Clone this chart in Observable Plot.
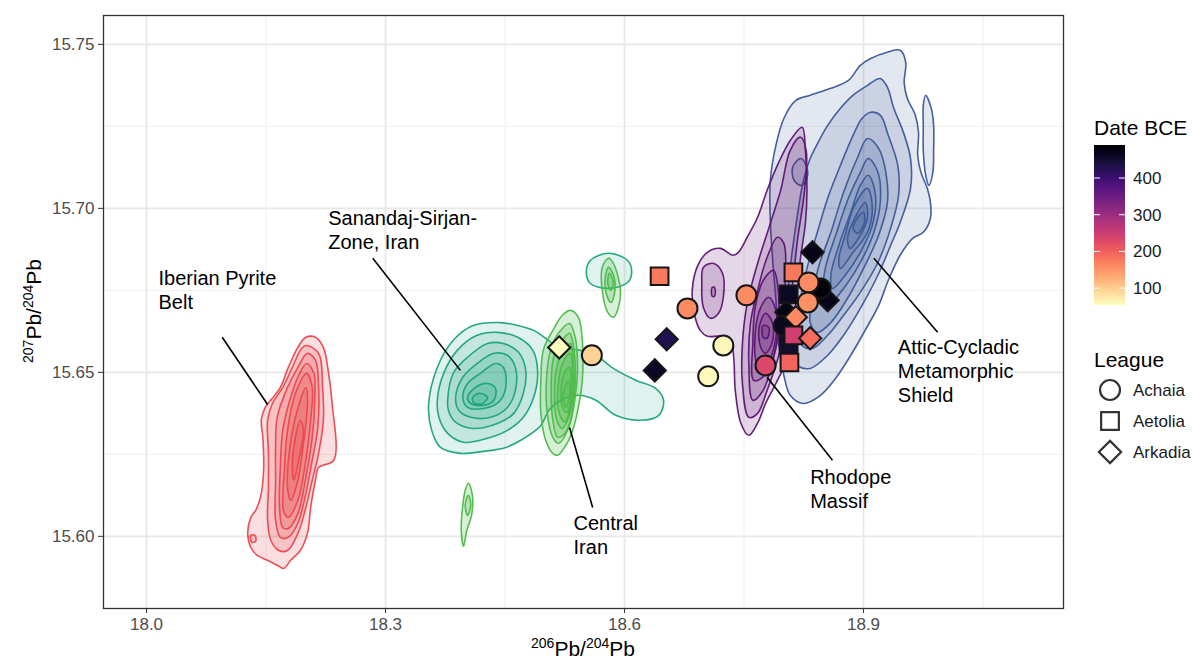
<!DOCTYPE html>
<html>
<head>
<meta charset="utf-8">
<script src="https://cdn.jsdelivr.net/npm/d3@7"></script>
<script src="https://cdn.jsdelivr.net/npm/@observablehq/plot@0.6"></script>
<style>
  body { margin: 0; background: #fff; }
  #wrap { position: relative; width: 1192px; height: 662px; font-family: "Liberation Sans", Arial, sans-serif; background: #fff; }
</style>
</head>
<body>
<div id="wrap"><div id="chart"></div></div>
<script>
// ---------- Ore-source density contours (206Pb/204Pb, 207Pb/204Pb) ----------
const iberianPyriteBelt = [
  [[18.200,15.6607],[18.212,15.6607],[18.222,15.6576],[18.228,15.6506],[18.233,15.6405],[18.235,15.6232],[18.216,15.6210],[18.212,15.6171],[18.206,15.6088],[18.202,15.6009],[18.193,15.5957],[18.181,15.5927],[18.172,15.5902],[18.164,15.5912],[18.152,15.5927],[18.139,15.5942],[18.131,15.5966],[18.127,15.6009],[18.131,15.6058],[18.137,15.6079],[18.143,15.6119],[18.147,15.6201],[18.146,15.6302],[18.144,15.6354],[18.149,15.6393],[18.158,15.6421],[18.168,15.6454],[18.178,15.6515],[18.190,15.6576]],
  [[18.200,15.6582],[18.216,15.6558],[18.221,15.6454],[18.222,15.6354],[18.216,15.6253],[18.208,15.6171],[18.200,15.6088],[18.190,15.6009],[18.177,15.5957],[18.166,15.5957],[18.156,15.5988],[18.152,15.6049],[18.153,15.6149],[18.153,15.6253],[18.152,15.6354],[18.158,15.6405],[18.171,15.6454],[18.183,15.6515],[18.193,15.6567]],
  [[18.202,15.6558],[18.212,15.6537],[18.216,15.6454],[18.215,15.6332],[18.208,15.6232],[18.200,15.6131],[18.190,15.6040],[18.178,15.5997],[18.168,15.5997],[18.162,15.6049],[18.162,15.6171],[18.162,15.6271],[18.164,15.6363],[18.177,15.6454],[18.190,15.6515]],
  [[18.201,15.6527],[18.210,15.6497],[18.211,15.6405],[18.208,15.6302],[18.200,15.6180],[18.190,15.6070],[18.178,15.6024],[18.171,15.6027],[18.167,15.6088],[18.168,15.6210],[18.171,15.6323],[18.181,15.6424],[18.191,15.6491]],
  [[18.201,15.6497],[18.208,15.6454],[18.206,15.6354],[18.200,15.6232],[18.190,15.6110],[18.178,15.6058],[18.172,15.6079],[18.173,15.6201],[18.177,15.6323],[18.187,15.6436]],
  [[18.200,15.6454],[18.202,15.6405],[18.197,15.6284],[18.190,15.6171],[18.181,15.6110],[18.177,15.6149],[18.179,15.6253],[18.187,15.6363]],
  [[18.193,15.6354],[18.197,15.6323],[18.191,15.6232],[18.185,15.6171],[18.183,15.6210],[18.187,15.6302]],
  [[18.131,15.6003],[18.136,15.6003],[18.137,15.5985],[18.132,15.5982]]
];
const sanandajSirjanZone = [
  [[18.354,15.6399],[18.365,15.6515],[18.385,15.6598],[18.410,15.6643],[18.441,15.6652],[18.466,15.6643],[18.486,15.6628],[18.501,15.6604],[18.513,15.6582],[18.526,15.6573],[18.545,15.6567],[18.564,15.6552],[18.586,15.6512],[18.614,15.6476],[18.639,15.6451],[18.649,15.6415],[18.643,15.6369],[18.620,15.6354],[18.589,15.6369],[18.564,15.6415],[18.542,15.6430],[18.520,15.6415],[18.505,15.6384],[18.495,15.6338],[18.476,15.6302],[18.451,15.6271],[18.423,15.6259],[18.394,15.6253],[18.369,15.6271],[18.358,15.6323]],
  [[18.552,15.6805],[18.557,15.6841],[18.580,15.6863],[18.604,15.6841],[18.609,15.6805],[18.604,15.6774],[18.580,15.6756],[18.557,15.6771]],
  [[18.365,15.6415],[18.373,15.6497],[18.390,15.6567],[18.415,15.6613],[18.441,15.6622],[18.466,15.6607],[18.485,15.6567],[18.491,15.6497],[18.486,15.6424],[18.473,15.6363],[18.453,15.6323],[18.428,15.6299],[18.398,15.6287],[18.378,15.6314],[18.367,15.6363]],
  [[18.378,15.6415],[18.385,15.6497],[18.403,15.6546],[18.428,15.6588],[18.448,15.6588],[18.467,15.6561],[18.476,15.6506],[18.473,15.6436],[18.461,15.6375],[18.441,15.6345],[18.410,15.6329],[18.388,15.6348],[18.379,15.6384]],
  [[18.388,15.6424],[18.397,15.6485],[18.415,15.6527],[18.436,15.6558],[18.453,15.6552],[18.463,15.6515],[18.463,15.6445],[18.453,15.6393],[18.432,15.6363],[18.407,15.6363],[18.392,15.6384]],
  [[18.397,15.6424],[18.403,15.6466],[18.419,15.6497],[18.438,15.6527],[18.448,15.6515],[18.451,15.6454],[18.442,15.6409],[18.423,15.6390],[18.403,15.6393]],
  [[18.403,15.6424],[18.413,15.6454],[18.428,15.6466],[18.438,15.6451],[18.436,15.6415],[18.422,15.6399],[18.407,15.6405]],
  [[18.409,15.6421],[18.417,15.6436],[18.428,15.6424],[18.422,15.6405],[18.412,15.6405]]
];
const centralIran = [
  [[18.532,15.6689],[18.542,15.6668],[18.547,15.6598],[18.547,15.6476],[18.542,15.6393],[18.536,15.6332],[18.528,15.6284],[18.516,15.6247],[18.510,15.6253],[18.501,15.6293],[18.495,15.6375],[18.495,15.6476],[18.498,15.6567],[18.510,15.6628],[18.522,15.6674]],
  [[18.531,15.6649],[18.538,15.6607],[18.541,15.6515],[18.538,15.6424],[18.530,15.6332],[18.517,15.6284],[18.510,15.6302],[18.503,15.6375],[18.502,15.6476],[18.507,15.6567],[18.517,15.6619]],
  [[18.531,15.6619],[18.537,15.6558],[18.538,15.6466],[18.535,15.6384],[18.526,15.6317],[18.516,15.6302],[18.510,15.6354],[18.508,15.6454],[18.511,15.6546],[18.522,15.6598]],
  [[18.532,15.6588],[18.536,15.6515],[18.536,15.6436],[18.530,15.6363],[18.522,15.6329],[18.515,15.6354],[18.512,15.6436],[18.515,15.6515],[18.523,15.6567]],
  [[18.532,15.6558],[18.535,15.6476],[18.532,15.6393],[18.525,15.6348],[18.517,15.6384],[18.517,15.6466],[18.522,15.6527]],
  [[18.531,15.6515],[18.533,15.6445],[18.528,15.6378],[18.522,15.6393],[18.521,15.6466],[18.525,15.6500]],
  [[18.530,15.6476],[18.531,15.6424],[18.526,15.6393],[18.523,15.6436]],
  [[18.580,15.6848],[18.586,15.6832],[18.595,15.6750],[18.592,15.6695],[18.586,15.6668],[18.579,15.6683],[18.572,15.6750],[18.572,15.6820]],
  [[18.580,15.6820],[18.587,15.6790],[18.588,15.6750],[18.583,15.6713],[18.577,15.6741],[18.576,15.6790]],
  [[18.581,15.6802],[18.586,15.6774],[18.583,15.6750],[18.579,15.6771]],
  [[18.404,15.6162],[18.409,15.6125],[18.408,15.6064],[18.402,15.6018],[18.398,15.5970],[18.395,15.6018],[18.397,15.6095],[18.400,15.6140]],
  [[18.404,15.6125],[18.407,15.6095],[18.403,15.6064],[18.400,15.6095]]
];
const atticCycladic = [
  [[18.909,15.7457],[18.930,15.7476],[18.946,15.7482],[18.953,15.7445],[18.951,15.7384],[18.955,15.7335],[18.965,15.7284],[18.969,15.7232],[18.968,15.7162],[18.972,15.7110],[18.980,15.7061],[18.984,15.7018],[18.984,15.6970],[18.975,15.6927],[18.962,15.6909],[18.946,15.6857],[18.931,15.6780],[18.919,15.6704],[18.902,15.6628],[18.884,15.6552],[18.865,15.6482],[18.846,15.6430],[18.824,15.6405],[18.808,15.6430],[18.800,15.6491],[18.793,15.6598],[18.790,15.6720],[18.786,15.6841],[18.783,15.6963],[18.783,15.7085],[18.790,15.7192],[18.800,15.7274],[18.815,15.7329],[18.833,15.7345],[18.859,15.7366],[18.881,15.7390],[18.896,15.7436]],
  [[18.978,15.7345],[18.985,15.7305],[18.988,15.7253],[18.988,15.7177],[18.987,15.7110],[18.982,15.7070],[18.978,15.7101],[18.975,15.7177],[18.975,15.7253],[18.975,15.7314]],
  [[18.821,15.7152],[18.828,15.7131],[18.829,15.7091],[18.822,15.7070],[18.813,15.7085],[18.811,15.7125]],
  [[18.905,15.7375],[18.921,15.7396],[18.930,15.7369],[18.938,15.7305],[18.950,15.7232],[18.959,15.7152],[18.959,15.7061],[18.946,15.6957],[18.934,15.6887],[18.918,15.6796],[18.896,15.6695],[18.875,15.6613],[18.855,15.6552],[18.833,15.6512],[18.817,15.6521],[18.808,15.6573],[18.805,15.6674],[18.806,15.6774],[18.811,15.6878],[18.817,15.6979],[18.824,15.7079],[18.833,15.7152],[18.843,15.7201],[18.855,15.7253],[18.871,15.7305],[18.887,15.7345]],
  [[18.909,15.7293],[18.921,15.7284],[18.931,15.7223],[18.943,15.7131],[18.944,15.7040],[18.934,15.6939],[18.918,15.6835],[18.896,15.6744],[18.875,15.6674],[18.855,15.6613],[18.836,15.6573],[18.823,15.6582],[18.818,15.6643],[18.821,15.6726],[18.829,15.6817],[18.842,15.6927],[18.855,15.7031],[18.871,15.7131],[18.887,15.7223],[18.898,15.7274]],
  [[18.905,15.7213],[18.919,15.7183],[18.928,15.7110],[18.930,15.7018],[18.919,15.6918],[18.900,15.6817],[18.880,15.6726],[18.859,15.6652],[18.842,15.6622],[18.833,15.6652],[18.836,15.6726],[18.843,15.6817],[18.859,15.6927],[18.875,15.7049],[18.892,15.7152]],
  [[18.906,15.7152],[18.918,15.7110],[18.921,15.7018],[18.913,15.6927],[18.896,15.6835],[18.875,15.6756],[18.855,15.6704],[18.849,15.6735],[18.852,15.6817],[18.865,15.6918],[18.881,15.7031],[18.896,15.7110]],
  [[18.906,15.7101],[18.915,15.7040],[18.911,15.6948],[18.896,15.6866],[18.877,15.6796],[18.861,15.6756],[18.859,15.6796],[18.869,15.6887],[18.884,15.6988],[18.896,15.7070]],
  [[18.905,15.7061],[18.911,15.7000],[18.905,15.6927],[18.887,15.6866],[18.871,15.6817],[18.869,15.6848],[18.877,15.6918],[18.887,15.7000]],
  [[18.902,15.7018],[18.905,15.6970],[18.896,15.6918],[18.883,15.6878],[18.880,15.6909],[18.889,15.6970]],
  [[18.900,15.6988],[18.901,15.6954],[18.892,15.6924],[18.887,15.6939],[18.892,15.6970]]
];
const rhodopeMassif = [
  [[18.823,15.7247],[18.827,15.7177],[18.829,15.7055],[18.827,15.6954],[18.821,15.6851],[18.817,15.6750],[18.812,15.6649],[18.805,15.6546],[18.790,15.6466],[18.777,15.6405],[18.767,15.6345],[18.756,15.6308],[18.746,15.6345],[18.739,15.6445],[18.737,15.6546],[18.733,15.6598],[18.720,15.6610],[18.704,15.6610],[18.695,15.6628],[18.688,15.6674],[18.685,15.6750],[18.692,15.6826],[18.704,15.6866],[18.720,15.6878],[18.736,15.6857],[18.743,15.6866],[18.754,15.6912],[18.767,15.6973],[18.779,15.7055],[18.793,15.7137],[18.808,15.7207]],
  [[18.699,15.6820],[18.712,15.6832],[18.723,15.6802],[18.724,15.6729],[18.718,15.6680],[18.708,15.6665],[18.699,15.6698],[18.697,15.6771]],
  [[18.710,15.6759],[18.713,15.6759],[18.713,15.6732],[18.710,15.6732]],
  [[18.756,15.6363],[18.748,15.6466],[18.748,15.6588],[18.754,15.6710],[18.767,15.6832],[18.783,15.6954],[18.796,15.7055],[18.808,15.7177],[18.821,15.7217],[18.828,15.7177],[18.826,15.7055],[18.817,15.6902],[18.812,15.6790],[18.805,15.6668],[18.793,15.6546],[18.779,15.6445],[18.767,15.6375]],
  [[18.761,15.6415],[18.756,15.6527],[18.758,15.6649],[18.767,15.6750],[18.779,15.6851],[18.792,15.6912],[18.800,15.6893],[18.802,15.6790],[18.798,15.6668],[18.787,15.6546],[18.774,15.6445]],
  [[18.762,15.6476],[18.761,15.6588],[18.764,15.6698],[18.774,15.6780],[18.787,15.6811],[18.793,15.6750],[18.793,15.6649],[18.787,15.6546],[18.773,15.6485]],
  [[18.767,15.6527],[18.764,15.6619],[18.771,15.6698],[18.781,15.6729],[18.790,15.6689],[18.790,15.6607],[18.781,15.6537]],
  [[18.771,15.6576],[18.769,15.6637],[18.777,15.6680],[18.786,15.6649],[18.785,15.6588],[18.777,15.6558]],
  [[18.774,15.6607],[18.774,15.6643],[18.781,15.6637],[18.779,15.6604]]
];

// ---------- Coins ----------
const coinLeague = ["Arkadia","Achaia","Aetolia","Arkadia","Achaia","Aetolia","Arkadia","Arkadia","Arkadia","Arkadia","Achaia","Aetolia","Achaia","Achaia","Achaia","Achaia","Achaia","Aetolia","Aetolia","Achaia","Achaia","Arkadia","Aetolia","Arkadia"];
const coinPb206 = [18.855,18.846,18.806,18.803,18.800,18.806,18.836,18.653,18.638,18.518,18.559,18.644,18.679,18.753,18.724,18.705,18.777,18.807,18.812,18.831,18.830,18.815,18.812,18.833];
const coinPb207 = [15.6720,15.6756,15.6738,15.6683,15.6643,15.6582,15.6866,15.6601,15.6506,15.6576,15.6552,15.6793,15.6695,15.6735,15.6582,15.6488,15.6521,15.6530,15.6805,15.6774,15.6713,15.6668,15.6613,15.6604];
const coinDate = [470,480,460,470,465,450,470,430,460,54,95,175,160,160,60,58,230,195,175,160,155,160,245,190];

// ---------- Annotations ----------
const labelText = ["Iberian Pyrite\nBelt","Sanandaj-Sirjan-\nZone, Iran","Central\nIran","Rhodope\nMassif","Attic-Cycladic\nMetamorphic\nShield"];
const labelX = [18.015,18.228,18.536,18.833,18.943];
const labelY = [15.6817,15.7000,15.6070,15.6213,15.6607];
const leaderFromX = [18.095,18.284,18.560,18.861,18.993];
const leaderFromY = [15.6607,15.6848,15.6088,15.6232,15.6622];
const leaderToX = [18.152,18.394,18.531,18.779,18.913];
const leaderToY = [15.6402,15.6506,15.6332,15.6485,15.6848];

// ---------- Axes ----------
const xMajor = [18.0,18.3,18.6,18.9];
const xMinor = [18.15,18.45,18.75,19.05];
const yMajor = [15.60,15.65,15.70,15.75];
const yMinor = [15.625,15.675,15.725];
const leagues = ["Achaia","Aetolia","Arkadia"];
const legendDates = [400,300,200,100];
const dateDomain = [54,490];

// ---------- build tables ----------
function rows(levels, name) {
  const out = [];
  levels.forEach((poly, i) => poly.forEach(([x, y]) => out.push({x, y, key: name + i})));
  return out;
}
const coins = coinLeague.map((l, i) => ({league: l, x: coinPb206[i], y: coinPb207[i], date: coinDate[i]}));
const labels = labelText.map((t, i) => ({text: t, x: labelX[i], y: labelY[i]}));
const leaders = leaderFromX.map((d, i) => ({x1: d, y1: leaderFromY[i], x2: leaderToX[i], y2: leaderToY[i]}));

function contour(levels, name, color, op) {
  return Plot.line(rows(levels, name), {x: "x", y: "y", z: "key", curve: "catmull-rom-closed",
    fill: color, fillOpacity: op, stroke: color, strokeWidth: 1.6, strokeOpacity: 0.95});
}

const colorOpts = {type: "linear", scheme: "magma", reverse: true, domain: dateDomain};

const chart = Plot.plot({
  width: 1192, height: 662,
  marginLeft: 103, marginRight: 129, marginTop: 15, marginBottom: 54,
  style: {fontFamily: "'Liberation Sans', Arial, sans-serif", fontSize: "17px", background: "#fff"},
  x: {domain: [17.946, 19.151]},
  y: {domain: [15.578, 15.7588]},
  color: colorOpts,
  symbol: {domain: leagues, range: ["circle", "square", "diamond2"]},
  marks: [
    Plot.gridX({ticks: xMinor, stroke: "#efefef", strokeOpacity: 1, strokeWidth: 1}),
    Plot.gridY({ticks: yMinor, stroke: "#efefef", strokeOpacity: 1, strokeWidth: 1}),
    Plot.gridX({ticks: xMajor, stroke: "#e8e8e8", strokeOpacity: 1, strokeWidth: 1.8}),
    Plot.gridY({ticks: yMajor, stroke: "#e8e8e8", strokeOpacity: 1, strokeWidth: 1.8}),
    contour(iberianPyriteBelt, "ib", "#EA474E", 0.18),
    contour(sanandajSirjanZone, "ss", "#1AA47C", 0.14),
    contour(centralIran, "ci", "#4DBA4A", 0.22),
    contour(atticCycladic, "ac", "#3A5898", 0.14),
    contour(rhodopeMassif, "rm", "#5C1472", 0.17),
    Plot.link(leaders, {x1: "x1", y1: "y1", x2: "x2", y2: "y2", stroke: "#000", strokeWidth: 1.6}),
    Plot.text(labels, {x: "x", y: "y", text: "text", textAnchor: "start", lineAnchor: "top", fontSize: 20, fill: "#000", lineHeight: 1.2}),
    Plot.dot(coins, {x: "x", y: "y", symbol: "league", fill: "date", stroke: "#161616", strokeWidth: 2, r: 10}),
    Plot.frame({stroke: "#333", strokeWidth: 1.3}),
    Plot.axisX({ticks: xMajor, tickFormat: d => d.toFixed(1), tickSize: 5, tickPadding: 4, fontSize: 17, stroke: "#333", fill: "#4d4d4d", label: null}),
    Plot.axisY({ticks: yMajor, tickFormat: d => d.toFixed(2), tickSize: 5, tickPadding: 4, fontSize: 17, stroke: "#333", fill: "#4d4d4d", label: null})
  ]
});
document.getElementById("chart").appendChild(chart);

// ---------- overlay: axis titles and legends ----------
const ov = d3.select("#wrap").append("svg")
  .attr("width", 1192).attr("height", 662)
  .style("position", "absolute").style("left", "0px").style("top", "0px")
  .style("font-family", "'Liberation Sans', Arial, sans-serif");

function supTitle(sel, a, b) {
  sel.append("tspan").attr("font-size", 14).attr("dy", -8).text(a);
  sel.append("tspan").attr("font-size", 21).attr("dy", 8).text("Pb/");
  sel.append("tspan").attr("font-size", 14).attr("dy", -8).text(b);
  sel.append("tspan").attr("font-size", 21).attr("dy", 8).text("Pb");
}
supTitle(ov.append("text").attr("x", 583).attr("y", 656).attr("text-anchor", "middle").attr("fill", "#000"), "206", "204");
supTitle(ov.append("text").attr("transform", "translate(41,311) rotate(-90)").attr("text-anchor", "middle").attr("fill", "#000"), "207", "204");

// colour bar
let cscale;
try { cscale = Plot.scale({color: colorOpts}); } catch (e) { cscale = null; }
const colorOf = v => cscale ? cscale.apply(v) : d3.interpolateMagma(1 - (v - dateDomain[0]) / (dateDomain[1] - dateDomain[0]));
const barX = 1094, barW = 31, barTop = 145, barBot = 305;
const vy = v => barTop + (dateDomain[1] - v) / (dateDomain[1] - dateDomain[0]) * (barBot - barTop);
const grad = ov.append("defs").append("linearGradient").attr("id", "cbar").attr("x1", 0).attr("y1", 0).attr("x2", 0).attr("y2", 1);
d3.range(0, 21).forEach(k => {
  const v = dateDomain[1] - k / 20 * (dateDomain[1] - dateDomain[0]);
  grad.append("stop").attr("offset", k / 20).attr("stop-color", colorOf(v));
});
ov.append("text").attr("x", barX).attr("y", 135).attr("font-size", 21).attr("fill", "#000").text("Date BCE");
ov.append("rect").attr("x", barX).attr("y", barTop).attr("width", barW).attr("height", barBot - barTop).attr("fill", "url(#cbar)");
legendDates.forEach(v => {
  const y = vy(v);
  ov.append("line").attr("x1", barX).attr("x2", barX + 6).attr("y1", y).attr("y2", y).attr("stroke", "#fff").attr("stroke-width", 1);
  ov.append("line").attr("x1", barX + barW - 6).attr("x2", barX + barW).attr("y1", y).attr("y2", y).attr("stroke", "#fff").attr("stroke-width", 1);
  ov.append("text").attr("x", barX + barW + 8).attr("y", y).attr("dy", "0.35em").attr("font-size", 17).attr("fill", "#1a1a1a").text(v);
});

// shape legend
ov.append("text").attr("x", barX).attr("y", 367).attr("font-size", 21).attr("fill", "#000").text("League");
const symRange = [d3.symbolCircle, d3.symbolSquare, d3.symbolDiamond2];
leagues.forEach((name, i) => {
  const cy = 390 + i * 31, cx = barX + 16;
  ov.append("path").attr("d", d3.symbol(symRange[i], Math.PI * 100)())
    .attr("transform", `translate(${cx},${cy})`).attr("fill", "none").attr("stroke", "#333").attr("stroke-width", 2.2);
  ov.append("text").attr("x", barX + barW + 8).attr("y", cy).attr("dy", "0.35em").attr("font-size", 17).attr("fill", "#1a1a1a").text(name);
});
</script>
</body>
</html>
